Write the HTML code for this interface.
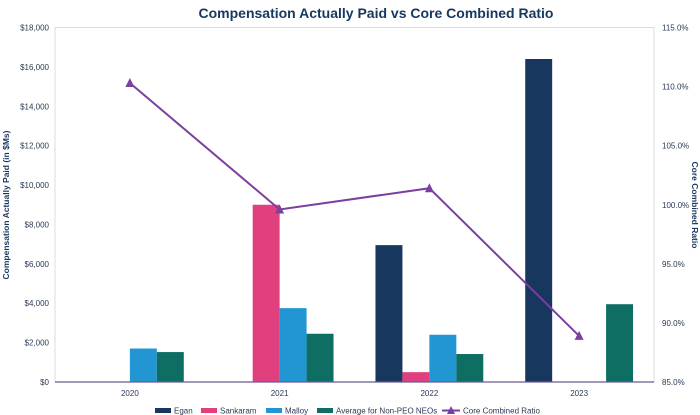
<!DOCTYPE html>
<html><head><meta charset="utf-8"><style>
body{margin:0;background:#fff;}
svg{display:block;font-family:"Liberation Sans",Arial,sans-serif;}
</style></head><body>
<svg id="chart" width="700" height="415" viewBox="0 0 700 415">
<text x="376" y="18" text-anchor="middle" font-size="14" font-weight="bold" fill="#17375e">Compensation Actually Paid vs Core Combined Ratio</text>
<rect x="55" y="27.5" width="599" height="354.5" fill="none" stroke="#d9dee6" stroke-width="1"/>
<g id="bars"></g><g id="axes"></g><g id="line"></g>
<text transform="translate(9,205) rotate(-90)" text-anchor="middle" font-size="8.5" font-weight="bold" fill="#17375e">Compensation Actually Paid (in $Ms)</text>
<text transform="translate(692,205) rotate(90)" text-anchor="middle" font-size="8.5" font-weight="bold" fill="#17375e">Core Combined Ratio</text>
<g id="legend"></g>
</svg>
<script>
const categories=["2020","2021","2022","2023"];
const egan=[0,0,6950,16400];
const sankaram=[0,9000,500,0];
const malloy=[1700,3750,2400,0];
const avgNeo=[1520,2450,1420,3950];
const ratio=[110.3,99.6,101.4,88.9];
const leftTicks=[0,2000,4000,6000,8000,10000,12000,14000,16000,18000];
const rightTicks=[85,90,95,100,105,110,115];
const NS="http://www.w3.org/2000/svg";
const L=55,R=654,T=27.5,B=382;
const cw=(R-L)/categories.length;
const bw=cw*0.18;
function xc(i){return L+cw*(i+0.5);}
function yL(v){return B-(v/18000)*(B-T);}
function yR(v){return B-((v-85)/30)*(B-T);}
function mk(tag,attrs,parent){const e=document.createElementNS(NS,tag);for(const k in attrs)e.setAttribute(k,attrs[k]);parent.appendChild(e);return e;}
const bars=document.getElementById('bars'),axes=document.getElementById('axes'),line=document.getElementById('line'),legend=document.getElementById('legend');
const series=[["egan",egan,"#17375e","Egan"],["sankaram",sankaram,"#e0407e","Sankaram"],["malloy",malloy,"#2196d3","Malloy"],["average-non-peo",avgNeo,"#0f6e64","Average for Non-PEO NEOs"]];
series.forEach((s,si)=>{
  s[1].forEach((v,i)=>{
    if(v<=0)return;
    const x=xc(i)-2*bw+si*bw;
    const r=mk('rect',{x:x,y:yL(v),width:bw,height:B-yL(v),fill:s[2]},bars);
    
    
  });
});
mk('line',{x1:L,y1:B,x2:R,y2:B,stroke:"#6b5b95","stroke-width":1.2},axes);
leftTicks.forEach(v=>{
  const t=mk('text',{x:49,y:yL(v)+3,"text-anchor":"end","font-size":8,fill:"#2b3a55"},axes);
  t.textContent='$'+v.toLocaleString('en-US');
  
  
});
rightTicks.forEach(v=>{
  const t=mk('text',{x:662,y:yR(v)+3,"text-anchor":"start","font-size":8,fill:"#2b3a55"},axes);
  t.textContent=v.toFixed(1)+'%';
  
  
});
categories.forEach((c,i)=>{
  const t=mk('text',{x:xc(i),y:B+14,"text-anchor":"middle","font-size":8,fill:"#2b3a55"},axes);
  t.textContent=c;
  
  
});
const pts=ratio.map((v,i)=>xc(i)+','+yR(v)).join(' ');
const pl=mk('polyline',{points:pts,fill:"none",stroke:"#7b3fa0","stroke-width":2},line);


ratio.forEach((v,i)=>{
  const x=xc(i),y=yR(v);
  const m=mk('polygon',{points:`${x},${y-5} ${x-4.5},${y+4} ${x+4.5},${y+4}`,fill:"#7b3fa0"},line);
  
  
});
const lx=[155,201,266,317,442];
series.forEach((s,si)=>{
  const g=mk('g',{},legend);
  
  
  mk('rect',{x:lx[si],y:408,width:16,height:5,fill:s[2]},g);
  const t=mk('text',{x:lx[si]+19,y:413.5,"font-size":8,fill:"#2b3a55"},g);
  t.textContent=s[3];
});
const g=mk('g',{},legend);


mk('line',{x1:lx[4],y1:410.5,x2:lx[4]+18,y2:410.5,stroke:"#7b3fa0","stroke-width":2},g);
mk('polygon',{points:`${lx[4]+9},406 ${lx[4]+5},414 ${lx[4]+13},414`,fill:"#7b3fa0"},g);
const lt=mk('text',{x:lx[4]+21,y:413.5,"font-size":8,fill:"#2b3a55"},g);
lt.textContent='Core Combined Ratio';
</script>
</body></html>
